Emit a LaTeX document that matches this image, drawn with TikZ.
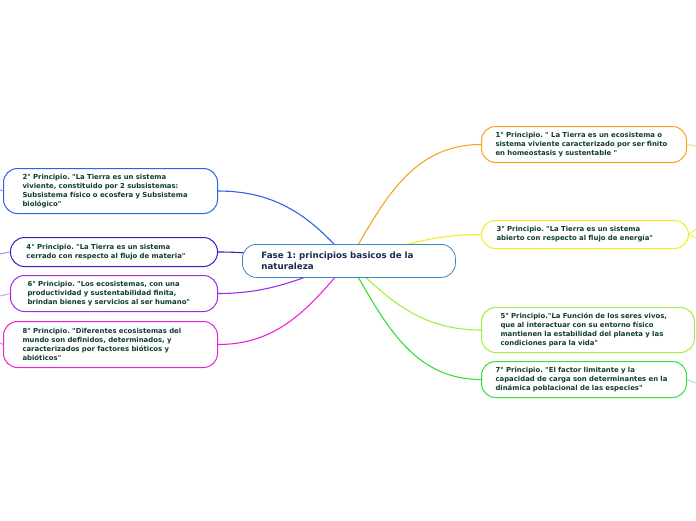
\documentclass[tikz,border=0pt]{standalone}
\usepackage{fontspec}
\setmainfont{DejaVu Sans}[Ligatures=TeXOff]
\usetikzlibrary{backgrounds}
\frenchspacing
\definecolor{cFase}{HTML}{3A87C8}
\definecolor{cNaranja}{HTML}{F7A325}
\definecolor{cAmarillo}{HTML}{EEEE22}
\definecolor{cLima}{HTML}{A2EE44}
\definecolor{cVerde}{HTML}{33E033}
\definecolor{cAzul}{HTML}{2F62EC}
\definecolor{cIndigo}{HTML}{3A1CC8}
\definecolor{cMorado}{HTML}{A02CE6}
\definecolor{cMagenta}{HTML}{EE22CC}
\definecolor{cTexto}{HTML}{0F3D2E}
\definecolor{cTitulo}{HTML}{1B2B50}
\begin{document}
\begin{tikzpicture}[x=1pt,y=-1pt,
    idea/.style={draw, fill=white, rounded corners=14pt, line width=1pt,
      align=left, anchor=north west, inner ysep=0pt, text=cTexto,
      font=\bfseries\fontsize{6.9}{8.9}\selectfont},
    fase/.style={draw=cFase, fill=white, rounded corners=14pt, line width=0.8pt,
      align=left, anchor=north west, inner ysep=0pt, text=cTitulo,
      font=\bfseries\fontsize{8.7}{11}\selectfont},
    rama/.style={line width=1.1pt},
    cola/.style={line width=1pt}
  ]
  \useasboundingbox (0,0) rectangle (696,520);

  % nodo central
  \node[fase, minimum width=213pt, minimum height=33pt, text width=175pt, inner xsep=19pt]
    (fase) at (242,244) {Fase 1: principios basicos de la\\naturaleza};

  % principios de la derecha
  \node[idea, draw=cNaranja, minimum width=205pt, minimum height=36pt, text width=177pt, inner xsep=14pt]
    (p1) at (481,126) {1° Principio. " La Tierra es un ecosistema o\\sistema viviente caracterizado por ser finito\\en homeostasis y sustentable "};
  \node[idea, draw=cAmarillo, minimum width=207pt, minimum height=28pt, text width=177pt, inner xsep=15pt]
    (p3) at (481,220) {3° Principio. "La Tierra es un sistema\\abierto con respecto al flujo de energía"};
  \node[idea, draw=cLima, minimum width=213pt, minimum height=45pt, text width=175pt, inner xsep=19pt]
    (p5) at (481,307) {5° Principio."La Función de los seres vivos,\\que al interactuar con su entorno físico\\mantienen la estabilidad del planeta y las\\condiciones para la vida"};
  \node[idea, draw=cVerde, minimum width=205pt, minimum height=36pt, text width=177pt, inner xsep=14pt]
    (p7) at (481,361) {7° Principio. "El factor limitante y la\\capacidad de carga son determinantes en la\\dinámica poblacional de las especies"};

  % principios de la izquierda
  \node[idea, draw=cAzul, minimum width=214pt, minimum height=45pt, text width=176pt, inner xsep=19pt]
    (p2) at (3,168) {2° Principio. "La Tierra es un sistema\\viviente, constituido por 2 subsistemas:\\Subsistema físico o ecosfera y Subsistema\\biológico"};
  \node[idea, draw=cIndigo, minimum width=207pt, minimum height=29pt, text width=175pt, inner xsep=16pt]
    (p4) at (10,237) {4° Principio. "La Tierra es un sistema\\cerrado con respecto al flujo de materia"};
  \node[idea, draw=cMorado, minimum width=207pt, minimum height=36pt, text width=173pt, inner xsep=17pt]
    (p6) at (10,275) {6° Principio. "Los ecosistemas, con una\\productividad y sustentabilidad finita,\\brindan bienes y servicios al ser humano"};
  \node[idea, draw=cMagenta, minimum width=214pt, minimum height=46pt, text width=176pt, inner xsep=19pt]
    (p8) at (3,321) {8° Principio. "Diferentes ecosistemas del\\mundo son definidos, determinados, y\\caracterizados por factores bióticos y\\abióticos"};

  % ramas (detras del nodo central)
  \begin{scope}[on background layer]
    \draw[rama, cNaranja] (fase.center) to[out=60, in=180] (p1.west);
    \draw[rama, cAmarillo] (fase.center) to[out=15, in=180] (p3.west);
    \draw[rama, cLima] (fase.center) to[out=-45, in=180] (p5.west);
    \draw[rama, cVerde] (fase.center) to[out=-60, in=180] (p7.west);
    \draw[rama, cAzul] (fase.center) to[out=130, in=0] (p2.east);
    \draw[rama, cIndigo] (fase.center) to[out=180, in=0] (p4.east);
    \draw[rama, cMorado] (fase.center) to[out=200, in=0] (p6.east);
    \draw[rama, cMagenta] (fase.center) to[out=-130, in=0] (p8.east);
  \end{scope}

  % colas de ramas plegadas
  \coordinate (c1) at (696,146);
  \coordinate (c3a) at (696,229);
  \coordinate (c3b) at (696,238);
  \coordinate (c7) at (696,383);
  \coordinate (c2) at (0,190);
  \coordinate (c4) at (0,254);
  \coordinate (c6) at (0,296);
  \coordinate (c8) at (0,343);
  \draw[cola, cNaranja!45] (p1.east) -- (c1);
  \draw[cola, cAmarillo!80] (p3.east) -- (c3a);
  \draw[cola, cAmarillo!80] (p3.east) -- (c3b);
  \draw[cola, cVerde!45] (p7.east) -- (c7);
  \draw[cola, cAzul!60] (p2.west) -- (c2);
  \draw[cola, cIndigo!45] (p4.west) -- (c4);
  \draw[cola, cMorado!45] (p6.west) -- (c6);
  \draw[cola, cMagenta!60] (p8.west) -- (c8);
\end{tikzpicture}
\end{document}
